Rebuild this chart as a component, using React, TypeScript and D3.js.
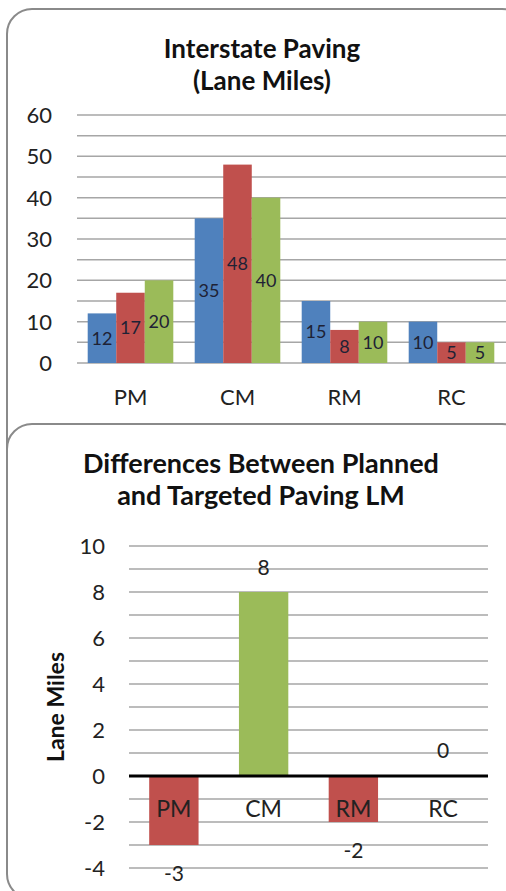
import React from "react";
import * as d3 from "d3";

const categories = ["PM", "CM", "RM", "RC"];
const seriesNames = ["Series A", "Series B", "Series C"];
const seriesA = [12, 35, 15, 10];
const seriesB = [17, 48, 8, 5];
const seriesC = [20, 40, 10, 5];
const topTicks = [0, 10, 20, 30, 40, 50, 60];
const topGrid = [0, 5, 10, 15, 20, 25, 30, 35, 40, 45, 50, 55, 60];
const diffValues = [-3, 8, -2, 0];
const diffTicks = [-4, -2, 0, 2, 4, 6, 8, 10];
const diffGrid = [-4, -3, -2, -1, 1, 2, 3, 4, 5, 6, 7, 8, 9, 10];

const COLORS = ["#4f81bd", "#c0504d", "#9bbb59"];
const FONT = "Lato, 'Open Sans', sans-serif";

export default function App() {
  const W = 506;
  const H = 891;
  const series = [seriesA, seriesB, seriesC];

  // top chart scales
  const x1 = d3.scaleBand<string>().domain(categories).range([77, 505]).padding(0);
  const groupW = x1.bandwidth() * 0.8;
  const xs = d3.scaleBand<string>().domain(seriesNames).range([0, groupW]).padding(0);
  const y1 = d3.scaleLinear().domain([0, 60]).range([363, 115]);

  // bottom chart scales
  const x2 = d3.scaleBand<string>().domain(categories).range([129, 488]).padding(0);
  const barW2 = x2.bandwidth() * 0.55;
  const y2 = d3.scaleLinear().domain([-4, 10]).range([868, 546]);

  return (
    <svg width={W} height={H} style={{ position: "absolute", left: 0, top: 0 }}>
      <rect x={0} y={0} width={W} height={H} fill="#fff" />
      {/* boxes */}
      <rect x={7} y={9} width={520} height={470} rx={25} ry={25} fill="#fff" stroke="#8a8a8a" strokeWidth={2} />
      <rect x={7} y={424} width={520} height={475} rx={25} ry={25} fill="#fff" stroke="#8a8a8a" strokeWidth={2} />

      {/* TOP CHART */}
      <g>
        <text x={262} y={58} textAnchor="middle" fontFamily={FONT} fontWeight="bold" fontSize={26} fill="#111">Interstate Paving</text>
        <text x={262} y={90} textAnchor="middle" fontFamily={FONT} fontWeight="bold" fontSize={26} fill="#111">(Lane Miles)</text>
        {topGrid.map((t) => (
          <line key={t} x1={77} x2={506} y1={y1(t)} y2={y1(t)} stroke="#a6a6a6" strokeWidth={1.5} />
        ))}
        {topTicks.map((t) => (
          <text key={t} x={52} y={y1(t)} dy="0.36em" textAnchor="end" fontFamily={FONT} fontSize={22} fill="#222">{t}</text>
        ))}
        {categories.map((c, i) => {
          const gx = (x1(c) as number) + (x1.bandwidth() - groupW) / 2;
          return (
            <g key={c}>
              {series.map((s, j) => {
                const bx = gx + (xs(seriesNames[j]) as number);
                const v = s[i];
                return (
                  <g key={j}>
                    <rect x={bx} y={y1(v)} width={xs.bandwidth()} height={y1(0) - y1(v)} fill={COLORS[j]} />
                    <text x={bx + xs.bandwidth() / 2} y={(y1(v) + y1(0)) / 2} dy="0.36em" textAnchor="middle" fontFamily={FONT} fontSize={18} fill="#1e2235">{v}</text>
                  </g>
                );
              })}
              <text x={(x1(c) as number) + x1.bandwidth() / 2} y={405} textAnchor="middle" fontFamily={FONT} fontSize={22} fill="#222">{c}</text>
            </g>
          );
        })}
      </g>

      {/* BOTTOM CHART */}
      <g>
        <text x={261} y={473} textAnchor="middle" fontFamily={FONT} fontWeight="bold" fontSize={27} fill="#111">Differences Between Planned</text>
        <text x={261} y={505} textAnchor="middle" fontFamily={FONT} fontWeight="bold" fontSize={27} fill="#111">and Targeted Paving LM</text>
        {diffGrid.map((t) => (
          <line key={t} x1={129} x2={488} y1={y2(t)} y2={y2(t)} stroke="#a6a6a6" strokeWidth={1.5} />
        ))}
        {diffTicks.map((t) => (
          <text key={t} x={105} y={y2(t)} dy="0.36em" textAnchor="end" fontFamily={FONT} fontSize={22} fill="#222">{t}</text>
        ))}
        <text transform={`translate(56, ${(y2(-4) + y2(10)) / 2}) rotate(-90)`} dy="0.36em" textAnchor="middle" fontFamily={FONT} fontWeight="bold" fontSize={23} fill="#111">Lane Miles</text>
        {categories.map((c, i) => {
          const v = diffValues[i];
          const cx = (x2(c) as number) + x2.bandwidth() / 2;
          const top = Math.min(y2(v), y2(0));
          const h = Math.abs(y2(v) - y2(0));
          const labelY = v > 0 ? y2(v) - 25 : v < 0 ? y2(v) + 28 : y2(0) - 26;
          return (
            <g key={c}>
              {h > 0 && <rect x={cx - barW2 / 2} y={top} width={barW2} height={h} fill={v > 0 ? COLORS[2] : COLORS[1]} />}
              <text x={cx} y={labelY} dy="0.36em" textAnchor="middle" fontFamily={FONT} fontSize={21} fill="#222">{v}</text>
            </g>
          );
        })}
        <line x1={129} x2={488} y1={y2(0)} y2={y2(0)} stroke="#000" strokeWidth={3} />
        {categories.map((c) => (
          <text key={c} x={(x2(c) as number) + x2.bandwidth() / 2} y={817} textAnchor="middle" fontFamily={FONT} fontSize={23} fill="#222">{c}</text>
        ))}
      </g>
    </svg>
  );
}
